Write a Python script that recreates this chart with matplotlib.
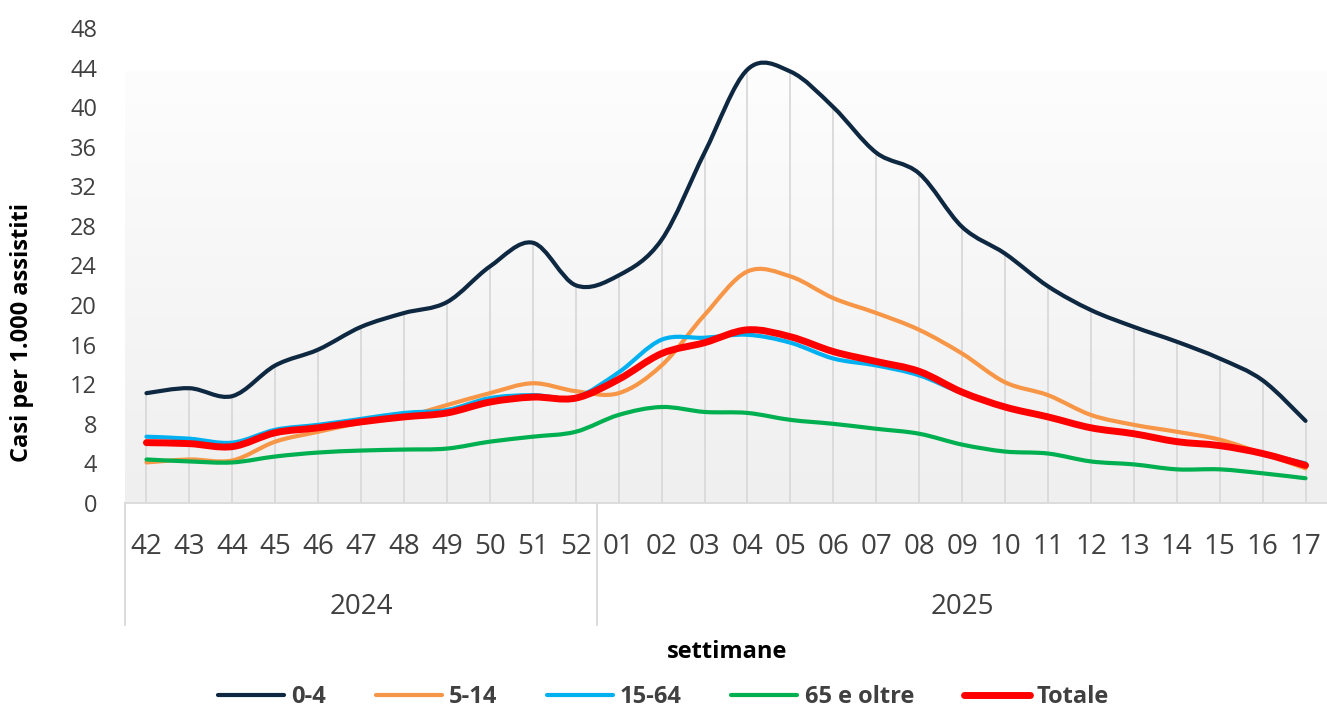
import numpy as np
import matplotlib
matplotlib.use("Agg")
import matplotlib.pyplot as plt
from matplotlib.path import Path
from matplotlib.patches import PathPatch
from matplotlib.lines import Line2D
import matplotlib.transforms as mtransforms

# ===============================
# DATA
# ===============================
weeks = ["42", "43", "44", "45", "46", "47", "48", "49", "50", "51", "52",
         "01", "02", "03", "04", "05", "06", "07", "08", "09", "10", "11",
         "12", "13", "14", "15", "16", "17"]
years = ["2024", "2025"]
n_weeks_2024 = 11

age_0_4 = [11.1, 11.6, 10.8, 13.9, 15.5, 17.8, 19.2, 20.3, 23.9, 26.3, 22.0,
           23.0, 26.6, 35.4, 43.8, 43.6, 40.0, 35.4, 33.3, 27.9, 25.2, 21.9,
           19.5, 17.8, 16.3, 14.6, 12.4, 8.3]
age_5_14 = [4.1, 4.4, 4.3, 6.2, 7.2, 8.1, 8.7, 9.9, 11.1, 12.1, 11.3,
            11.1, 13.9, 19.0, 23.4, 22.9, 20.7, 19.2, 17.5, 15.1, 12.2, 10.9,
            8.9, 7.9, 7.2, 6.4, 5.0, 3.5]
age_15_64 = [6.7, 6.5, 6.1, 7.4, 7.9, 8.5, 9.1, 9.4, 10.6, 10.9, 10.7,
             13.2, 16.5, 16.7, 17.0, 16.2, 14.6, 13.9, 12.9, 11.1, 9.7, 8.7,
             7.6, 7.0, 6.2, 5.8, 5.0, 4.0]
age_65_plus = [4.4, 4.2, 4.1, 4.7, 5.1, 5.3, 5.4, 5.5, 6.2, 6.7, 7.2,
               8.9, 9.7, 9.2, 9.1, 8.4, 8.0, 7.5, 7.0, 5.9, 5.2, 5.0,
               4.2, 3.9, 3.4, 3.4, 3.0, 2.5]
totale = [6.1, 6.0, 5.7, 7.1, 7.6, 8.2, 8.7, 9.1, 10.2, 10.7, 10.6,
          12.5, 15.1, 16.2, 17.5, 16.8, 15.3, 14.3, 13.3, 11.2, 9.7, 8.7,
          7.6, 7.0, 6.2, 5.8, 5.0, 3.8]

series = [
    ("0-4", age_0_4, "#0E2841", 3.0),
    ("5-14", age_5_14, "#F79646", 3.0),
    ("15-64", age_15_64, "#00B0F0", 3.0),
    ("65 e oltre", age_65_plus, "#00B050", 3.0),
    ("Totale", totale, "#FF0000", 5.0),
]

text_color = "#404040"
grid_color = "#D9D9D9"
plt.rcParams["font.family"] = ["Open Sans", "DejaVu Sans"]


def smooth_path(x, y):
    # Excel-style smoothed line: cubic Bezier through every point
    pts = np.column_stack([x, y]).astype(float)
    ext = np.vstack([pts[0], pts, pts[-1]])
    verts = [pts[0]]
    codes = [Path.MOVETO]
    for i in range(len(pts) - 1):
        p0, p1, p2, p3 = ext[i], ext[i + 1], ext[i + 2], ext[i + 3]
        c1 = p1 + (p2 - p0) / 6.0
        c2 = p2 - (p3 - p1) / 6.0
        verts += [c1, c2, p2]
        codes += [Path.CURVE4] * 3
    return Path(verts, codes)


# ===============================
# FIGURE
# ===============================
W, H = 1327, 711
fig = plt.figure(figsize=(W / 100, H / 100), dpi=100)
ax = fig.add_axes([125 / W, 208 / H, 1202 / W, 475 / H])
ax.set_xlim(-0.5, len(weeks) - 0.5)
ax.set_ylim(0, 48)
ax.patch.set_alpha(0)

# gradient plot background
grad = np.linspace(0, 1, 256).reshape(-1, 1)
cmap = matplotlib.colors.LinearSegmentedColormap.from_list("bg", ["#FDFDFD", "#EFEFEF"])
ax.imshow(grad, cmap=cmap, extent=[-0.5, len(weeks) - 0.5, 0, 43.6],
          aspect="auto", origin="upper", zorder=0)

x = np.arange(len(weeks))

# drop lines up to the highest series
top = np.max(np.array([s[1] for s in series]), axis=0)
ax.vlines(x, 0, top, color=grid_color, lw=1.3, zorder=1)

for name, vals, color, lw in series:
    patch = PathPatch(smooth_path(x, vals), fill=False, edgecolor=color, lw=lw,
                      capstyle="round", joinstyle="round", zorder=3)
    ax.add_patch(patch)

# axes styling
for side in ["top", "right", "left"]:
    ax.spines[side].set_visible(False)
ax.spines["bottom"].set_color(grid_color)
ax.spines["bottom"].set_linewidth(1.3)
ax.set_yticks(np.arange(0, 49, 4))
ax.tick_params(axis="y", length=0, pad=20, labelsize=17, labelcolor=text_color)
ax.set_xticks([])

# multi-level category axis
trans = mtransforms.blended_transform_factory(ax.transData, ax.transAxes)
for i, w in enumerate(weeks):
    ax.text(i, -44 / 475, w, transform=trans, ha="center", va="center",
            fontsize=20, color=text_color)
year_centers = [(n_weeks_2024 - 1) / 2, (n_weeks_2024 + len(weeks) - 1) / 2]
for yc, yr in zip(year_centers, years):
    ax.text(yc, -104 / 475, yr, transform=trans, ha="center", va="center",
            fontsize=20, color=text_color)
for xs in [-0.5, n_weeks_2024 - 0.5]:
    ax.add_line(Line2D([xs, xs], [0, -122 / 475], transform=trans,
                       color=grid_color, lw=1.3, clip_on=False))

fig.text(22 / W, 1 - 332 / H, "Casi per 1.000 assistiti", rotation=90,
         ha="center", va="center", fontsize=17, fontweight="bold", color="black")
fig.text(727 / W, 1 - 652 / H, "settimane", ha="center", va="center",
         fontsize=17, fontweight="bold", color="black")

handles = [Line2D([], [], color=c, lw=lw, solid_capstyle="round") for _, _, c, lw in series]
labels = [s[0] for s in series]
leg = fig.legend(handles, labels, loc="center", bbox_to_anchor=(0.5, 1 - 697 / H),
                 ncol=5, frameon=False, handlelength=2.8, handletextpad=0.3,
                 columnspacing=2.1, prop={"weight": "bold", "size": 17})
for t in leg.get_texts():
    t.set_color(text_color)

fig.savefig("out.png", dpi=100)
